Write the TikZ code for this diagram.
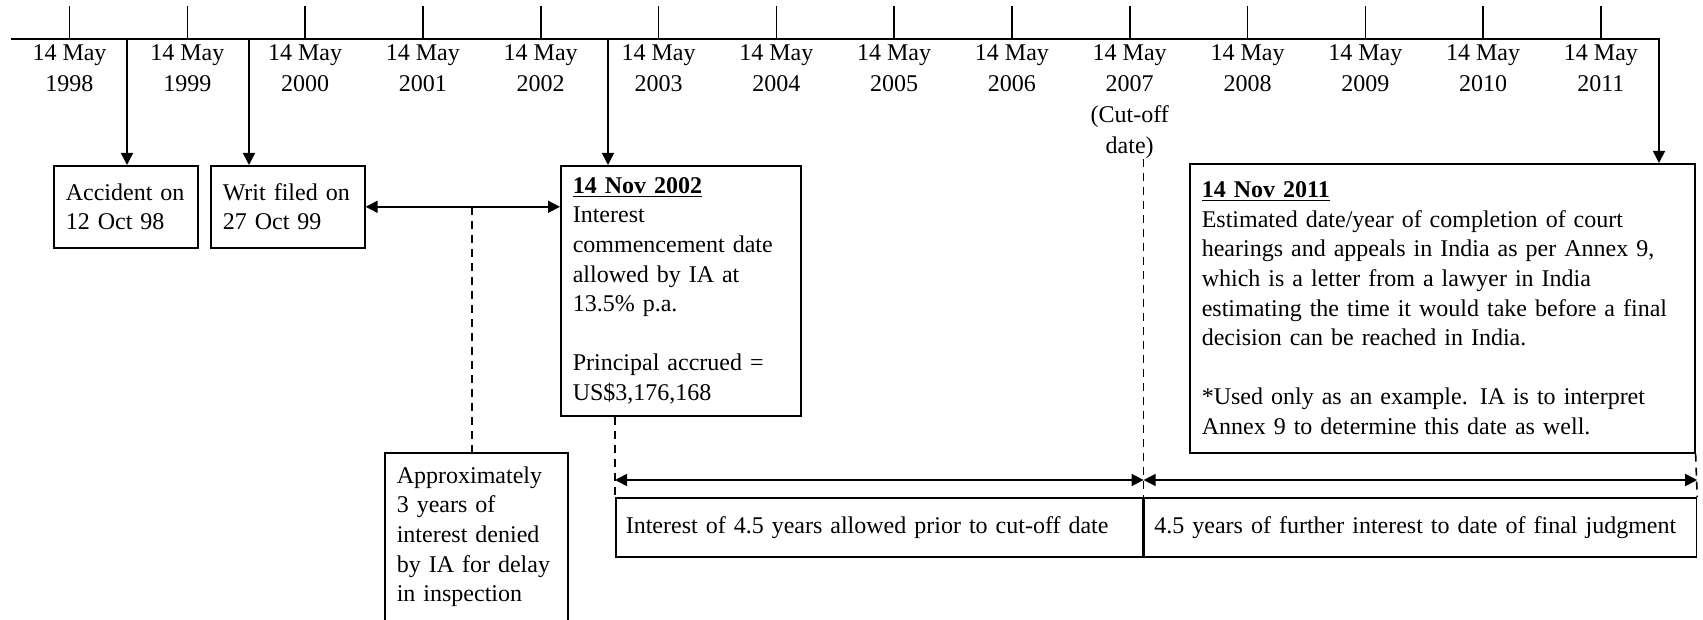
\documentclass[tikz,border=0pt]{standalone}
\usepackage{fontspec}
\setmainfont{Liberation Serif}
\usetikzlibrary{positioning,calc}
\usetikzlibrary{arrows.meta}

\begin{document}
\begin{tikzpicture}[x=0.5pt, y=-0.5pt, thick, >={Triangle[length=6pt,width=6pt]},
  every node/.style={font=\fontsize{12}{14.8}\selectfont},
  yearlbl/.style={anchor=north, align=center, inner sep=0pt, font=\fontsize{12}{15.4}\selectfont},
  evbox/.style={draw, anchor=north west, align=left, inner xsep=6pt, inner ysep=0pt},
  spanbox/.style={draw, anchor=north west, align=left, inner xsep=5pt, inner ysep=0pt, minimum height=29.5pt},
  gapline/.style={dash pattern=on 4pt off 3pt}]
\useasboundingbox (0,0) rectangle (1703,620);

% event boxes
\node[evbox, text width=60pt, minimum height=41pt] (acc) at (53,165) {Accident on\\12 Oct 98};
\node[evbox, text width=65pt, minimum height=41pt] (writ) at (210,165) {Writ filed on\\27 Oct 99};
\node[evbox, text width=108pt, minimum height=125pt] (nov02) at (560,165)
  {\underline{\textbf{14 Nov 2002}}\\Interest\\commencement date\\allowed by IA at\\13.5\% p.a.\\[14.8pt]Principal accrued =\\US\$3,176,168};
\node[evbox, text width=240.5pt, minimum height=144.5pt] (nov11) at (1189,163)
  {\underline{\textbf{14 Nov 2011}}\\Estimated date/year of completion of court\\hearings and appeals in India as per Annex 9,\\which is a letter from a lawyer in India\\estimating the time it would take before a final\\decision can be reached in India.\\[14.8pt]*Used only as an example. IA is to interpret\\Annex 9 to determine this date as well.};
\node[evbox, text width=79.5pt, minimum height=84pt] (approx) at (384,452)
  {Approximately\\3 years of\\interest denied\\by IA for delay\\in inspection};
\node[spanbox, text width=253.5pt] (prior) at (615,497) {Interest of 4.5 years allowed prior to cut-off date};
\node[spanbox, text width=266pt] (further) at (prior.north east) {4.5 years of further interest to date of final judgment};

% timeline
\coordinate (tlstart) at (11,39);
\coordinate (tlend) at (1659,39);
\foreach \yr [count=\i from 0] in {1998,...,2011}{
  \coordinate (t\yr) at ({69.5+117.8*\i},39);
  \draw (t\yr) -- ++(0,-33);
  \ifnum\yr=2007
    \node[yearlbl] (l\yr) at ($(t\yr)+(0,5)$) {14 May\\\yr\\(Cut-off\\date)};
  \else
    \node[yearlbl] (l\yr) at ($(t\yr)+(0,5)$) {14 May\\\yr};
  \fi
}
\draw[->] (tlstart) -- (tlend) -- (tlend |- nov11.north);

% drops to the boxes
\coordinate (accdrop) at (127,39);
\coordinate (writdrop) at (249,39);
\coordinate (novdrop) at (608,39);
\foreach \c/\b in {accdrop/acc, writdrop/writ, novdrop/nov02}
  \draw[->] (\c) -- (\c |- \b.north);

% denied gap
\draw[<->] (writ.east) -- (writ.east -| nov02.west);
\coordinate (gap) at ($(writ.east)!0.546!(writ.east -| nov02.west)$);
\draw[gapline] (gap) -- (gap |- approx.north);

% interest spans
\draw[gapline] (nov02.south -| prior.north west) -- (prior.north west);
\draw[gapline] (prior.north east |- l2007.south) -- (prior.north east);
\draw[gapline] (nov11.south east) -- (further.north east);
\coordinate (spanrow) at (0,480);
\draw[<->] (prior.north west |- spanrow) -- (prior.north east |- spanrow);
\draw[<->] (further.north west |- spanrow) -- (further.north east |- spanrow);
\end{tikzpicture}
\end{document}
